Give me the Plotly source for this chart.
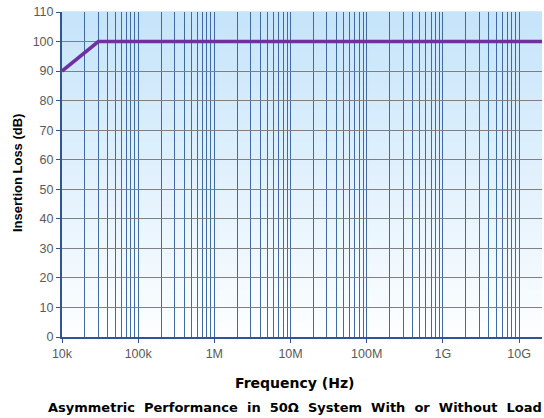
import plotly.graph_objects as go

freq_hz = [1e4, 3e4, 2e10]
insertion_loss_db = [90, 100, 100]
x_tick_vals = [1e4, 1e5, 1e6, 1e7, 1e8, 1e9, 1e10]
x_tick_text = ["10k", "100k", "1M", "10M", "100M", "1G", "10G"]
y_tick_vals = list(range(0, 111, 10))

fig = go.Figure()
fig.add_trace(go.Scatter(x=freq_hz, y=insertion_loss_db, mode="lines",
                         line=dict(color="#7030A0", width=3.5), showlegend=False,
                         cliponaxis=False))

# background gradient (light blue at top to near white at bottom)
n = 40
top = (198, 228, 250)
bot = (252, 254, 255)
for i in range(n):
    t = i / (n - 1)
    c = tuple(int(round(bot[k] + (top[k] - bot[k]) * t)) for k in range(3))
    fig.add_shape(type="rect", xref="x domain", yref="y domain",
                  x0=0, x1=1, y0=i / n, y1=(i + 1) / n + 0.002,
                  fillcolor="rgb(%d,%d,%d)" % c, line=dict(width=0), layer="below")

font_fam = "Liberation Sans, Arial, sans-serif"
wide_fam = "DejaVu Sans, Verdana, sans-serif"
tick_font = dict(family=font_fam, size=12.5, color="#595959")
fig.update_layout(
    width=544, height=418,
    margin=dict(l=62, r=2, t=12, b=81),
    paper_bgcolor="white", plot_bgcolor="rgba(0,0,0,0)",
    xaxis=dict(type="log", range=[4, 10.301], tickvals=x_tick_vals, ticktext=x_tick_text,
               automargin=False,
               showgrid=True, gridcolor="#3F6BA3", gridwidth=1.3,
               minor=dict(showgrid=True, gridcolor="#3F6BA3", gridwidth=1.3, dtick="D1", ticks=""),
               showline=True, linecolor="#2F5597", linewidth=2,
               ticks="outside", ticklen=4, tickcolor="#2F5597", tickfont=tick_font,
               zeroline=False),
    yaxis=dict(range=[0, 110], tickvals=y_tick_vals, automargin=False,
               showgrid=True, gridcolor="#7F7F7F", gridwidth=1.3,
               showline=True, linecolor="#2F5597", linewidth=2,
               ticks="outside", ticklen=4, tickcolor="#2F5597", tickfont=tick_font,
               zeroline=False),
)
plot_h = 418 - 12 - 81
fig.add_annotation(text="<b>Frequency (Hz)</b>", xref="paper", yref="paper",
                   x=(294 - 62) / 480, y=-(383 - 337) / plot_h, xanchor="center", yanchor="middle",
                   showarrow=False, font=dict(family=wide_fam, size=14, color="black"))
fig.add_annotation(text="<b>Insertion Loss (dB)</b>", xref="paper", yref="paper",
                   x=-(62 - 17) / 480, y=(337 - 173) / plot_h, xanchor="center", yanchor="middle",
                   textangle=-90, showarrow=False, font=dict(family=font_fam, size=13, color="black"))
fig.add_annotation(text="<b>Asymmetric  Performance  in  50Ω  System  With  or  Without  Load</b>",
                   xref="paper", yref="paper", x=(295 - 62) / 480, y=-(407 - 337) / plot_h,
                   xanchor="center", yanchor="middle", showarrow=False,
                   font=dict(family=wide_fam, size=13, color="black"))
fig.write_html("out.html", config={"displayModeBar": False},
               post_script="document.body.style.margin='0';")
